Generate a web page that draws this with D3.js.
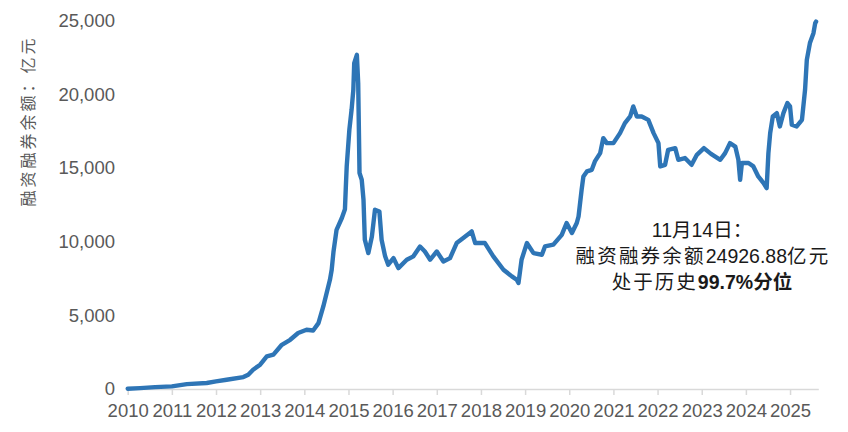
<!DOCTYPE html>
<html>
<head>
<meta charset="utf-8">
<script src="https://cdn.jsdelivr.net/npm/d3@7"></script>
<style>
  html, body { margin: 0; padding: 0; background: #ffffff; }
  svg { display: block; }
</style>
</head>
<body>
<svg id="chart" width="848" height="432"></svg>
<script>
// decimal-year positions
const dates = [
  2010.00, 2010.28, 2010.62, 2011.00, 2011.34, 2011.79, 2012.00, 2012.24, 2012.62, 2012.73,
  2012.84, 2013.00, 2013.15, 2013.30, 2013.49, 2013.68, 2013.86, 2014.05, 2014.20, 2014.32,
  2014.43, 2014.58, 2014.62, 2014.66, 2014.73, 2014.85, 2014.92, 2014.94, 2014.96, 2015.02,
  2015.07, 2015.11, 2015.13, 2015.19, 2015.22, 2015.25, 2015.30, 2015.34, 2015.37, 2015.45,
  2015.53, 2015.60, 2015.70, 2015.75, 2015.83, 2015.90, 2016.02, 2016.13, 2016.32, 2016.47,
  2016.62, 2016.73, 2016.85, 2017.00, 2017.15, 2017.30, 2017.45, 2017.60, 2017.79, 2017.87,
  2018.09, 2018.28, 2018.51, 2018.70, 2018.81, 2018.85, 2018.92, 2019.04, 2019.19, 2019.38,
  2019.45, 2019.64, 2019.83, 2019.94, 2020.06, 2020.17, 2020.21, 2020.28, 2020.32, 2020.40,
  2020.51, 2020.58, 2020.70, 2020.77, 2020.85, 2021.00, 2021.15, 2021.26, 2021.38, 2021.45,
  2021.53, 2021.64, 2021.79, 2021.91, 2022.02, 2022.06, 2022.17, 2022.24, 2022.40, 2022.47,
  2022.62, 2022.77, 2022.89, 2023.05, 2023.21, 2023.42, 2023.53, 2023.64, 2023.76, 2023.83,
  2023.87, 2023.91, 2024.06, 2024.17, 2024.28, 2024.40, 2024.47, 2024.51, 2024.55, 2024.61,
  2024.70, 2024.77, 2024.85, 2024.94, 2025.00, 2025.04, 2025.15, 2025.27, 2025.34, 2025.38,
  2025.45, 2025.53, 2025.57, 2025.59
];
// margin financing & securities lending balance, 亿元
const balance = [
  20, 60, 130, 180, 330, 410, 515, 630, 810, 970,
  1310, 1650, 2210, 2330, 3000, 3340, 3800, 4020, 3970, 4470,
  5600, 7410, 8090, 9300, 10800, 11600, 12200, 13700, 15100, 17590,
  18940, 20300, 22110, 22670, 20750, 14650, 14200, 12840, 10130, 9220,
  10350, 12160, 12040, 10130, 9000, 8430, 8880, 8200, 8770, 9000,
  9670, 9330, 8770, 9330, 8650, 8880, 9900, 10240, 10690, 9900,
  9900, 9000, 8090, 7640, 7410, 7190, 8770, 9900, 9220, 9110,
  9670, 9790, 10460, 11260, 10580, 11260, 11700, 13520, 14420, 14760,
  14870, 15440, 16000, 17020, 16680, 16680, 17360, 18040, 18490, 19170,
  18490, 18490, 18260, 17360, 16680, 15100, 15210, 16230, 16340, 15550,
  15670, 15210, 15890, 16340, 15950, 15550, 16000, 16680, 16450, 15550,
  14200, 15330, 15330, 15100, 14420, 13970, 13630, 16000, 17360, 18490,
  18720, 17810, 18720, 19400, 19170, 17930, 17810, 18260, 20300, 22330,
  23470, 24140, 24820, 24926.88
];
const yTicks = [0, 5000, 10000, 15000, 20000, 25000];
const xTickYears = [2010, 2011, 2012, 2013, 2014, 2015, 2016, 2017, 2018, 2019, 2020, 2021, 2022, 2023, 2024, 2025];
const yTitle = "融资融券余额：亿元";
const noteLine1 = "11月14日：";
const noteLine2 = ["融资融券余额", "24926.88", "亿元"];
const noteLine3 = ["处于历史", "99.7%", "分位"];

const svg = d3.select("#chart");
const x = d3.scaleLinear().domain([2010, 2025.64]).range([127.7, 818.3]);
const y = d3.scaleLinear().domain([0, 25000]).range([389, 20.5]);

const axisFont = "'Liberation Sans Narrow', 'Arial Narrow', 'Liberation Sans', Arial, sans-serif";
const labelColor = "#595959";

// x axis
const xAxis = svg.append("g").attr("transform", `translate(0,${y(0)})`)
  .call(d3.axisBottom(x).tickValues(xTickYears).tickFormat(d3.format("d")).tickSizeInner(6).tickSizeOuter(0));
xAxis.select(".domain").attr("stroke", "#d9d9d9").attr("stroke-width", 1.5);
xAxis.selectAll(".tick line").attr("stroke", "#d9d9d9").attr("stroke-width", 1.5);
xAxis.selectAll(".tick text")
  .attr("fill", labelColor).attr("font-family", axisFont).attr("font-size", 18.5)
  .attr("dy", null).attr("y", 28);

// y axis (labels only)
const yAxis = svg.append("g").attr("transform", "translate(115,0)")
  .call(d3.axisLeft(y).tickValues(yTicks).tickFormat(d3.format(",")).tickSize(0).tickPadding(0));
yAxis.select(".domain").remove();
yAxis.selectAll(".tick text")
  .attr("fill", labelColor).attr("font-family", axisFont).attr("font-size", 18.5);

// y title
svg.append("text")
  .attr("transform", "translate(34,121) rotate(-90)")
  .attr("text-anchor", "middle")
  .attr("fill", labelColor)
  .attr("font-family", "'Noto Sans CJK SC', sans-serif")
  .attr("font-size", 16)
  .attr("letter-spacing", 3)
  .text(yTitle);

// line
const data = dates.map((d, i) => ({ t: d, v: balance[i] }));
svg.append("path")
  .datum(data)
  .attr("fill", "none")
  .attr("stroke", "#2E75B6")
  .attr("stroke-width", 4.4)
  .attr("stroke-linejoin", "round")
  .attr("stroke-linecap", "round")
  .attr("d", d3.line().x(d => x(d.t)).y(d => y(d.v)));

// annotation
const noteFont = "'Liberation Sans', Arial, 'Noto Sans CJK SC', sans-serif";
const note = svg.append("g").attr("font-family", noteFont).attr("font-size", 19.5)
  .attr("fill", "#1a1a1a").attr("text-anchor", "middle");
note.append("text").attr("x", 702).attr("y", 237).text(noteLine1);
const t2 = note.append("text").attr("x", 703).attr("y", 263);
t2.append("tspan").attr("letter-spacing", 2.2).text(noteLine2[0]);
t2.append("tspan").text(noteLine2[1]);
t2.append("tspan").attr("letter-spacing", 2.2).text(noteLine2[2]);
const t3 = note.append("text").attr("x", 702).attr("y", 289);
t3.append("tspan").attr("letter-spacing", 2).text(noteLine3[0]);
t3.append("tspan").attr("font-weight", "bold").text(noteLine3[1]);
t3.append("tspan").attr("font-weight", "bold").text(noteLine3[2]);
</script>
</body>
</html>
